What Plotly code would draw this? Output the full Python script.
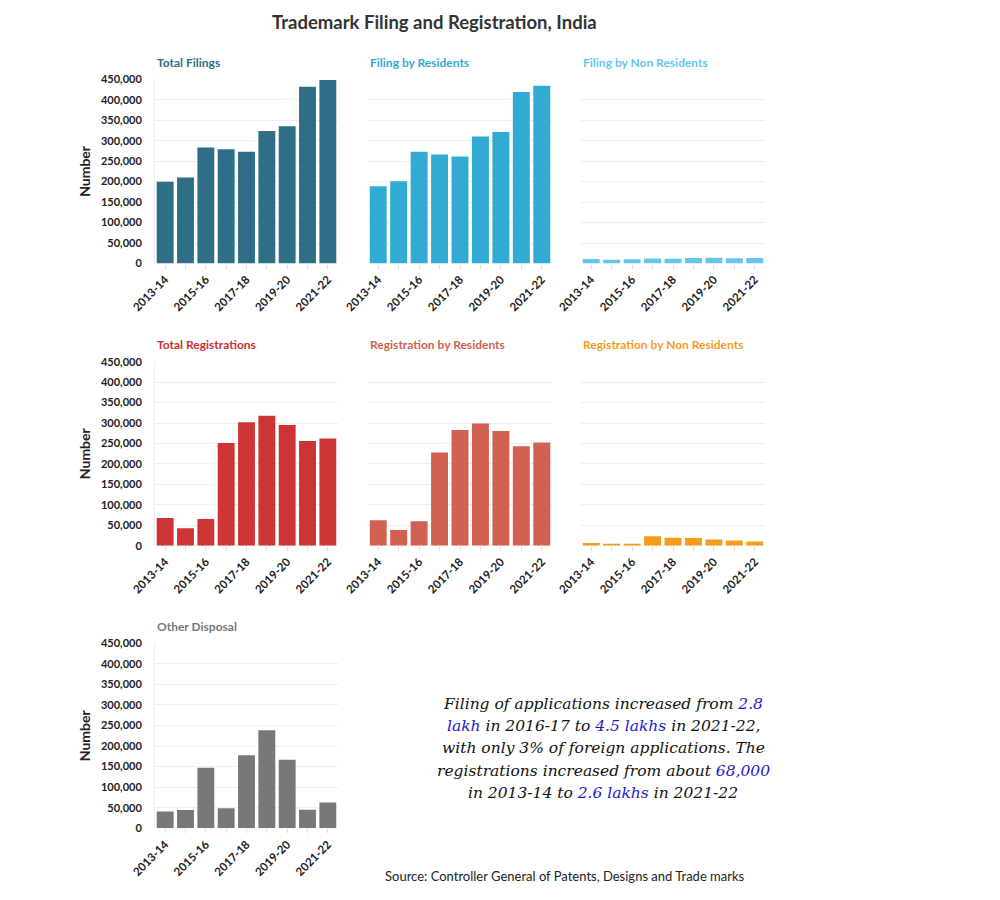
import plotly.graph_objects as go

years = ["2013-14", "2014-15", "2015-16", "2016-17", "2017-18",
         "2018-19", "2019-20", "2020-21", "2021-22"]
tick_text = [y if i % 2 == 0 else "" for i, y in enumerate(years)]
y_ticks = [0, 50000, 100000, 150000, 200000, 250000, 300000, 350000, 400000, 450000]

total_filings = [200000, 210000, 283500, 279000, 273000, 324000, 335000, 432000, 448000]
filing_residents = [189000, 201000, 273000, 266500, 261500, 310500, 321000, 419000, 434500]
filing_nonres = [11000, 9000, 10500, 12000, 11500, 13500, 14000, 13000, 13500]
total_reg = [68000, 42500, 65000, 251000, 302000, 318000, 295000, 256000, 262000]
reg_residents = [62000, 38500, 60000, 228000, 283000, 299000, 280500, 243000, 252500]
reg_nonres = [6500, 4000, 5000, 23000, 19500, 19000, 15000, 13000, 10000]
other_disposal = [41000, 44500, 147500, 48500, 177500, 238500, 167000, 45000, 62500]

panels = [
    ("Total Filings", total_filings, "#2e6e87", "#2e6e87", 0, 0),
    ("Filing by Residents", filing_residents, "#31abd3", "#31abd3", 0, 1),
    ("Filing by Non Residents", filing_nonres, "#64c6ef", "#64c6ef", 0, 2),
    ("Total Registrations", total_reg, "#cd3435", "#c93030", 1, 0),
    ("Registration by Residents", reg_residents, "#d16153", "#d16153", 1, 1),
    ("Registration by Non Residents", reg_nonres, "#f59c1c", "#f59c1c", 1, 2),
    ("Other Disposal", other_disposal, "#787878", "#787878", 2, 0),
]

W, H = 1000, 900
OX, OY = 8, 8  # page body margin offset


def px(xp):
    return (xp - OX) / W


def py(yp):
    return 1 - (yp - OY) / H


col_px = [(155, 338), (368, 552), (581, 765)]
row_px = [(79.3, 263.5), (361.7, 545.7), (643.3, 828.3)]

FONT = "Lato"
fig = go.Figure()
layout = dict(
    width=W, height=H,
    margin=dict(l=0, r=0, t=0, b=0, autoexpand=False),
    paper_bgcolor="white", plot_bgcolor="white",
    showlegend=False, bargap=0.17,
    font=dict(family=FONT, color="#333333"),
    annotations=[],
)

for i, (name, vals, color, tcolor, r, c) in enumerate(panels):
    n = i + 1
    xa = "x" if n == 1 else f"x{n}"
    ya = "y" if n == 1 else f"y{n}"
    fig.add_trace(go.Bar(x=years, y=vals, marker=dict(color=color, line=dict(width=0)),
                         xaxis=xa, yaxis=ya, name=name))
    x0, x1 = col_px[c]
    t0, t1 = row_px[r]
    layout[f"xaxis{n if n > 1 else ''}"] = dict(
        domain=[px(x0), px(x1)], anchor=ya, automargin=False,
        type="category", categoryorder="array", categoryarray=years,
        tickmode="array", tickvals=years, ticktext=tick_text,
        tickangle=-45, ticks="outside", ticklen=4, tickcolor="#dddddd",
        tickfont=dict(family=FONT, size=11.5, color="#222222", weight="bold"),
        showgrid=False, showline=False, zeroline=False, fixedrange=True,
    )
    layout[f"yaxis{n if n > 1 else ''}"] = dict(
        domain=[py(t1), py(t0)], anchor=xa, automargin=False,
        range=[0, 450000], tickmode="array", tickvals=y_ticks,
        tickformat=",d", showticklabels=(c == 0),
        tickfont=dict(family=FONT, size=11, color="#222222", weight="bold"),
        ticklabelstandoff=10,
        showgrid=True, gridcolor="#eeeeee", gridwidth=1,
        zeroline=False, showline=(c == 0), linecolor="#eeeeee",
        title=dict(text="Number" if c == 0 else "",
                   font=dict(family=FONT, size=14, color="#222222", weight="bold"),
                   standoff=7),
        fixedrange=True,
    )
    layout["annotations"].append(dict(
        text=f"<b>{name}</b>", x=px(x0), y=py(t0 - 17),
        xref="paper", yref="paper", xanchor="left", yanchor="middle",
        showarrow=False, font=dict(family=FONT, size=12, color=tcolor),
    ))

layout["annotations"].append(dict(
    text="<b>Trademark Filing and Registration, India</b>",
    x=px(434), y=py(22), xref="paper", yref="paper",
    xanchor="center", yanchor="middle", showarrow=False,
    font=dict(family=FONT, size=18.5, color="#333333"),
))

blue = "#1a1acc"


def hl(s):
    return f"<span style='color:{blue}'>{s}</span>"


note_lines = [
    f"Filing of applications increased from {hl('2.8')}",
    f"{hl('lakh')} in 2016-17 to {hl('4.5 lakhs')} in 2021-22,",
    "with only 3% of foreign applications. The",
    f"registrations increased from about {hl('68,000')}",
    f"in 2013-14 to {hl('2.6 lakhs')} in 2021-22",
]
note_y = [704, 726, 748, 771, 793]
for line, ly in zip(note_lines, note_y):
    layout["annotations"].append(dict(
        text=line, x=px(603), y=py(ly), xref="paper", yref="paper",
        xanchor="center", yanchor="middle", align="center", showarrow=False,
        font=dict(family="DejaVu Serif", size=15.5, color="#111111", style="italic"),
    ))

layout["annotations"].append(dict(
    text="Source: Controller General of Patents, Designs and Trade marks",
    x=px(565), y=py(876), xref="paper", yref="paper",
    xanchor="center", yanchor="middle", showarrow=False,
    font=dict(family=FONT, size=13, color="#222222"),
))

fig.update_layout(**layout)
fig.write_html("out.html")
